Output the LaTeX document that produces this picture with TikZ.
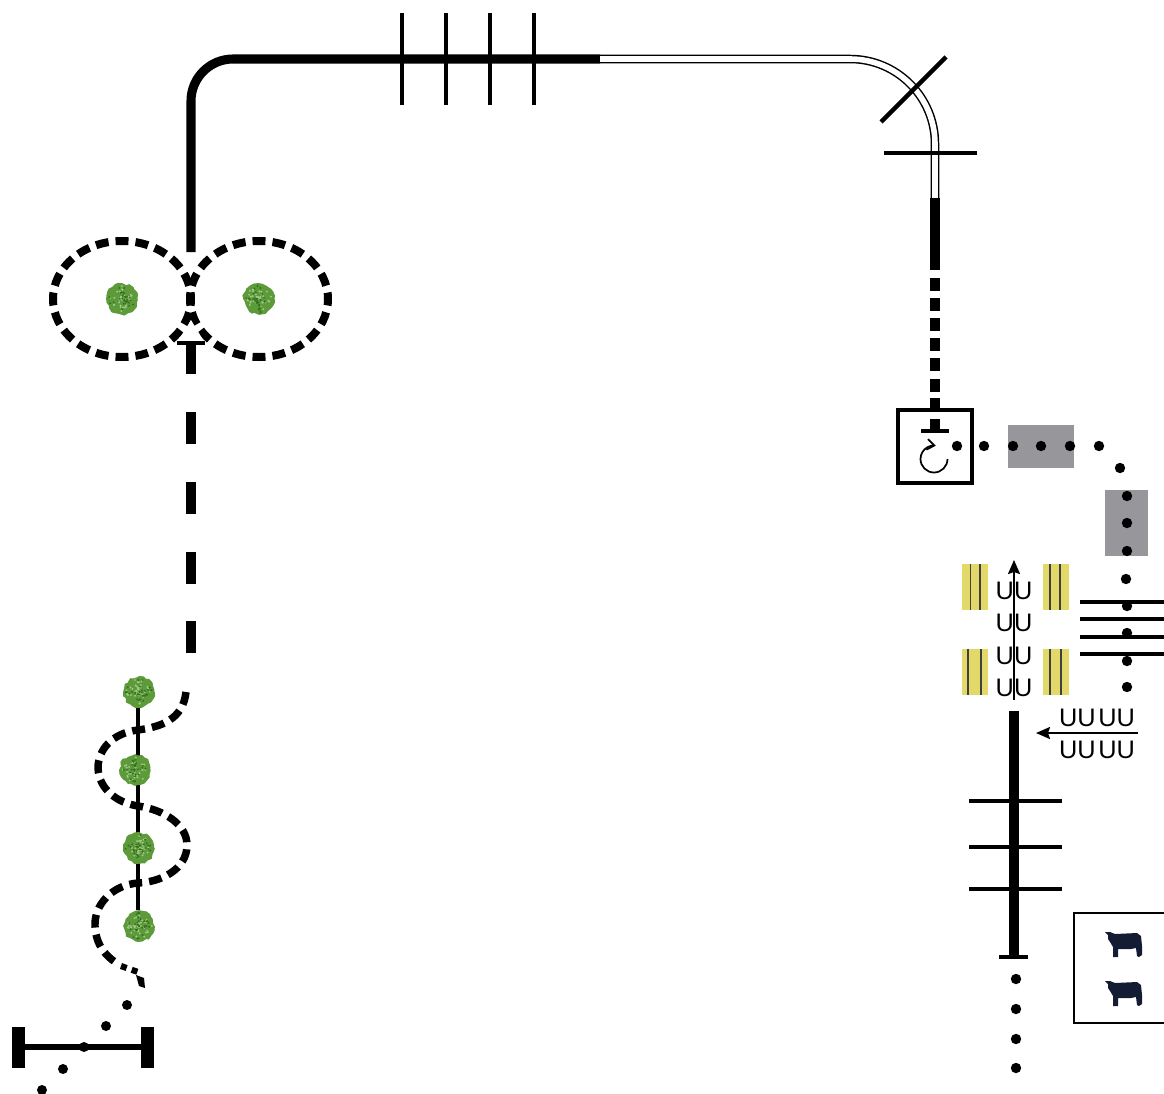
\documentclass[tikz,border=0pt]{standalone}
\usepackage{fontspec}
\setsansfont{Liberation Sans}
\usetikzlibrary{arrows.meta,calc,decorations.pathmorphing}
\definecolor{bushgreen}{HTML}{5C9A3A}
\definecolor{bushdark}{HTML}{35701F}
\definecolor{bushlight}{HTML}{B4D79A}
\definecolor{boxgray}{HTML}{97979B}
\definecolor{padyellow}{HTML}{E3D96B}
\definecolor{cownavy}{HTML}{141C33}
\tikzset{
    thickline/.style={line width=6.8pt},
    barline/.style={line width=3.2pt},
    dashline/.style={line width=6pt,dash pattern=on 9.7pt off 5.29pt},
    dot/.style={circle,fill=black,inner sep=0pt,minimum size=7.8pt},
    ulabel/.style={font=\sffamily\fontsize{19}{19}\selectfont,inner sep=0pt},
    bush/.style={circle,inner sep=0pt,minimum size=23pt,fill=bushgreen,
        decorate,decoration={random steps,segment length=2.5pt,amplitude=.9pt}}
}
\newcommand{\bushat}[2]{%
    \node[bush] (#1) at (#2) {};
    \foreach \i in {1,...,36}
        \fill[bushlight!80!bushgreen] ($(#2)+({360*rnd}:{13*rnd})$) circle (.8pt);
    \foreach \i in {1,...,30}
        \fill[bushdark] ($(#2)+({360*rnd}:{14*rnd})$) circle (.8pt);
}
\newcommand{\cowat}[1]{%
    \fill[cownavy,shift={(#1)}] (-18,-12) -- (-13,-12) -- (-8,-10) -- (14,-11) -- (18,-8) -- (19,2) -- (19,11) -- (16,13) -- (14,12) -- (13,4)
        -- (8,5) -- (-5,5) -- (-5,13) -- (-10,13) -- (-10,3) -- (-13,-2) -- (-15,-5) -- (-15,-9) -- cycle;
}
\begin{document}
\begin{tikzpicture}[x=.75pt,y=-.75pt]
    \useasboundingbox (0,0) rectangle (1164,1093);
    \pgfmathsetseed{17}
    % upper arm
    \draw[thickline] (191,252) -- (191,101) arc (180:270:42) -- (600,59);
    \draw[line width=1.1pt,double=white,double distance=4.2pt] (600,59) -- (850,59) arc (270:360:85) -- (935,198);
    \foreach \x in {402,446,490,534}
        \draw[line width=2.9pt] (\x,13) -- (\x,105);
    \draw[barline] (881,122) -- (946,57);
    \draw[barline] (884,153) -- (977,153);
    % left loops
    \bushat{bushA}{122,299}
    \bushat{bushB}{259,299}
    \draw[dashline,dash phase=4.85pt] (122,299) ellipse (69 and 58);
    \draw[dashline,dash phase=4.85pt] (259,299) ellipse (69 and 58);
    \fill[white] (191,320) -- (205,343) -- (177,343) -- cycle;
    \draw[line width=2.4pt] (177,343) -- (205,343);
    \draw[thickline] (191,343) -- (191,374);
    \foreach \y in {412,482,552,621}
        \draw[thickline] (191,\y) -- (191,\y+32);
    % winding part
    \draw[line width=3.4pt] (138,692) -- (138,910);
    \bushat{bushC}{139,692}
    \bushat{bushD}{135,770}
    \bushat{bushE}{139,848}
    \bushat{bushF}{139,926}
    \draw[dashline,line width=5.6pt] (186,692) .. controls (183,720) and (160,727) .. (138,730)
        .. controls (112,733) and (98,750) .. (98,768)
        .. controls (99,790) and (118,803) .. (138,806)
        .. controls (165,810) and (187,825) .. (187,845)
        .. controls (187,870) and (160,882) .. (138,883)
        .. controls (112,885) and (94,905) .. (95,926)
        .. controls (96,950) and (112,960) .. (118,964);
    \draw[line width=4.6pt,dash pattern=on 4.5pt off 4pt] (121,966) -- (138,972);
    \fill (136,975) -- (144,978) -- (145,988) -- (139,986) -- cycle;
    \foreach \x/\y in {127/1005,106/1026,84/1047,63/1069,42/1090}
        \node[dot,minimum size=7.5pt] at (\x,\y) {};
    \fill (12,1027) rectangle (25,1068);
    \fill (141,1027) rectangle (154,1068);
    \draw[line width=4.4pt] (25,1047) -- (141,1047);
    % right drop
    \draw[thickline] (935,198) -- (935,270);
    \foreach \y in {278,298,318,338,358,379,398}
        \draw[thickline] (935,\y) -- (935,\y+13);
    \draw[line width=3pt] (898,410) rectangle (972,483);
    \draw[thickline] (935,419) -- (935,431);
    \draw[barline] (921,431) -- (949,431);
    \draw[line width=1.3pt,-{Straight Barb[length=5.5pt,width=8pt]}] (947.5,459) arc (0:278:13.5);
    % grey boxes and dots
    \fill[boxgray] (1008,425) rectangle (1074,468);
    \fill[boxgray] (1105,490) rectangle (1148,556);
    \foreach \x/\y in {957/446,984/446,1013/446,1041/446,1070/446,1099/446,1120/468,1127/496,1127/523,1127/551,1126/579,1127/606,1127/633,1127/661,1127/687}
        \node[dot] at (\x,\y) {};
    \foreach \y in {602,619,637,654}
        \draw[barline] (1080,\y) -- (1164,\y);
    % yellow pads
    \foreach \x/\y/\a/\b in {962/564/970.5/980,1043/564/1050/1060,962/649/968/981,1043/649/1050/1061}{
        \fill[padyellow] (\x,\y) rectangle (\x+26,\y+46);
        \draw[line width=.8pt,black!75] (\a,\y) -- (\a,\y+46);
        \draw[line width=.8pt,black!75] (\b,\y) -- (\b,\y+46);
    }
    \foreach \y in {591,623,656,688}
        \node[ulabel] at (1014,\y) {UU};
    \draw[line width=1.6pt,-{Stealth[length=10.5pt,width=9pt,inset=1.5pt]}] (1014,700) -- (1014,560);
    \node[ulabel] at (1097,718) {UU\hspace{2pt}UU};
    \node[ulabel] at (1097,750) {UU\hspace{2pt}UU};
    \draw[line width=1.6pt,-{Stealth[length=10.5pt,width=9pt,inset=1.5pt]}] (1138,733) -- (1036,733);
    % lower stem
    \draw[thickline] (1014,711) -- (1014,957);
    \draw[line width=2.4pt] (999,957) -- (1028,957);
    \foreach \y in {801,847,889}
        \draw[barline] (969,\y) -- (1062,\y);
    \foreach \y in {979,1009,1039,1068}
        \node[dot] at (1016,\y) {};
    % cow box
    \draw[line width=1.9pt] (1175,913) -- (1074,913) -- (1074,1023) -- (1175,1023);
    \cowat{1123,944}
    \cowat{1123,993}
\end{tikzpicture}
\end{document}
